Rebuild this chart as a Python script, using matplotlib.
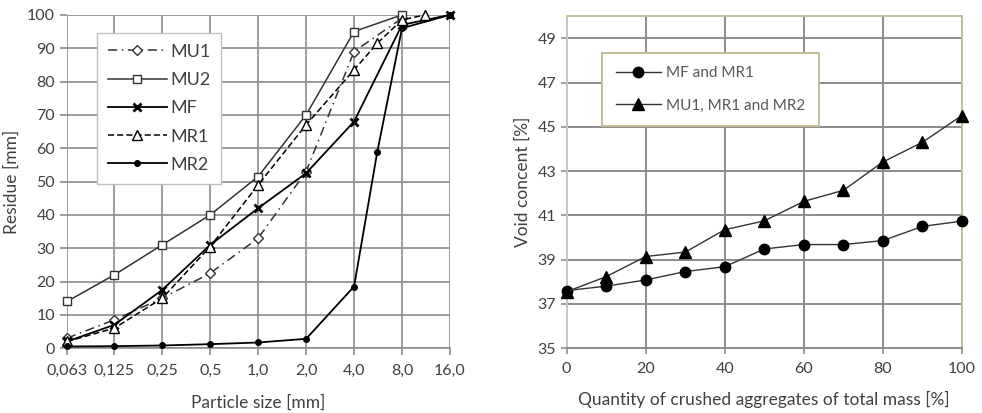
import matplotlib.pyplot as plt

plt.rcParams['font.family'] = ['Lato', 'DejaVu Sans']

# Left chart: grading curves
sizes = [0.063, 0.125, 0.25, 0.5, 1.0, 2.0, 4.0, 8.0, 16.0]
size_labels = ['0,063', '0,125', '0,25', '0,5', '1,0', '2,0', '4,0', '8,0', '16,0']

mu1_x = [0.063, 0.125, 0.25, 0.5, 1.0, 2.0, 4.0, 8.0]
mu1_y = [3, 8.5, 15, 22.5, 33, 53, 89, 99]
mu2_x = [0.063, 0.125, 0.25, 0.5, 1.0, 2.0, 4.0, 8.0]
mu2_y = [14, 22, 31, 40, 51.5, 70, 95, 100]
mf_x = [0.063, 0.125, 0.25, 0.5, 1.0, 2.0, 4.0, 8.0, 16.0]
mf_y = [2, 7, 17.5, 31, 42, 52.5, 68, 97, 100]
mr1_x = [0.063, 0.125, 0.25, 0.5, 1.0, 2.0, 4.0, 5.6, 8.0, 11.2]
mr1_y = [2, 6, 15, 30.5, 49, 67, 83.5, 91.5, 98.5, 100]
mr2_x = [0.063, 0.125, 0.25, 0.5, 1.0, 2.0, 4.0, 5.6, 8.0, 16.0]
mr2_y = [0.5, 0.6, 0.8, 1.2, 1.7, 2.8, 18.5, 59, 96, 100]

# Right chart: void content
crushed = [0, 10, 20, 30, 40, 50, 60, 70, 80, 90, 100]
mf_mr1 = [37.6, 37.8, 38.08, 38.46, 38.68, 39.48, 39.68, 39.68, 39.86, 40.5, 40.74]
mu1_mr1_mr2 = [37.55, 38.23, 39.14, 39.34, 40.35, 40.75, 41.63, 42.13, 43.41, 44.3, 45.51]

fig = plt.figure(figsize=(9.82, 4.13), dpi=100)
ax1 = fig.add_axes([0.0682, 0.157, 0.390, 0.807])
ax2 = fig.add_axes([0.577, 0.157, 0.4026, 0.804])

grid_c = '#8c8c8c'
text_c = '#404040'

# ---- left ----
ax1.plot(mu1_x, mu1_y, color='#333333', lw=1.1, ls=(0, (6, 3, 1, 3)), marker='D', ms=5,
         mfc='white', mec='#333333', label='MU1', zorder=3, clip_on=False)
ax1.plot(mu2_x, mu2_y, color='#333333', lw=1.1, marker='s', ms=6,
         mfc='white', mec='#333333', label='MU2', zorder=3, clip_on=False)
ax1.plot(mf_x, mf_y, color='black', lw=1.3, marker='x', ms=6, mew=2,
         label='MF', zorder=3, clip_on=False)
ax1.plot(mr1_x, mr1_y, color='black', lw=1.1, ls=(0, (4, 2)), marker='^', ms=7,
         mfc='white', mec='black', label='MR1', zorder=3, clip_on=False)
ax1.plot(mr2_x, mr2_y, color='black', lw=1.3, marker='o', ms=4,
         label='MR2', zorder=3, clip_on=False)

ax1.set_xscale('log', base=2)
ax1.set_xlim(0.063, 16)
ax1.set_ylim(0, 100)
ax1.set_xticks(sizes)
ax1.set_xticklabels(size_labels)
ax1.minorticks_off()
ax1.set_yticks(range(0, 101, 10))
ax1.grid(True, color=grid_c, lw=1.2)
for s in ax1.spines.values():
    s.set_visible(False)
ax1.spines['bottom'].set_visible(True)
ax1.spines['bottom'].set_color(grid_c)
ax1.spines['bottom'].set_linewidth(1.2)
ax1.tick_params(axis='both', colors=grid_c, labelcolor=text_c, labelsize=11.5, length=5, width=1.2)
ax1.tick_params(axis='x', pad=6)
ax1.set_xlabel('Particle size [mm]', fontsize=12.5, color=text_c, labelpad=12)
ax1.set_ylabel('Residue [mm]', fontsize=12.5, color=text_c, labelpad=5)

leg1 = ax1.legend(loc='upper left', bbox_to_anchor=(0.078, 0.946), fontsize=13,
                  handlelength=3.3, labelspacing=0.68, borderpad=0.6,
                  handletextpad=0.15, fancybox=False, framealpha=1,
                  edgecolor='#bfbfbf', borderaxespad=0)
for t in leg1.get_texts():
    t.set_color(text_c)

# ---- right ----
ax2.plot(crushed, mf_mr1, color='#333333', lw=1, marker='o', ms=7.5,
         mfc='black', mec='black', label='MF and MR1', zorder=3, clip_on=False)
ax2.plot(crushed, mu1_mr1_mr2, color='#333333', lw=1, marker='^', ms=8,
         mfc='black', mec='black', label='MU1, MR1 and MR2', zorder=3, clip_on=False)
ax2.set_xlim(0, 100)
ax2.set_ylim(35, 50)
ax2.set_xticks(range(0, 101, 20))
ax2.set_yticks(range(35, 50, 2))
ax2.grid(True, color=grid_c, lw=1.4)
ax2.spines['top'].set_color('#c4bd97')
ax2.spines['right'].set_color('#c4bd97')
ax2.spines['left'].set_color('#c8c8c8')
ax2.spines['bottom'].set_color(grid_c)
for s in ax2.spines.values():
    s.set_linewidth(1.4)
ax2.tick_params(axis='both', colors=grid_c, labelcolor=text_c, labelsize=11.5, length=4, width=1.2)
ax2.tick_params(axis='x', pad=6)
ax2.set_xlabel('Quantity of crushed aggregates of total mass [%]', fontsize=12.5,
               color=text_c, labelpad=11)
ax2.set_ylabel('Void concent [%]', fontsize=12.5, color=text_c, labelpad=5)

leg2 = ax2.legend(loc='upper left', bbox_to_anchor=(0.089, 0.89), fontsize=11,
                  handlelength=3.0, labelspacing=1.2, borderpad=0.9,
                  handletextpad=0.3, fancybox=False, framealpha=1,
                  edgecolor='#c4bd97', borderaxespad=0)
leg2.get_frame().set_linewidth(1.4)
for t in leg2.get_texts():
    t.set_color('#595959')

fig.savefig('out.png', dpi=100)
